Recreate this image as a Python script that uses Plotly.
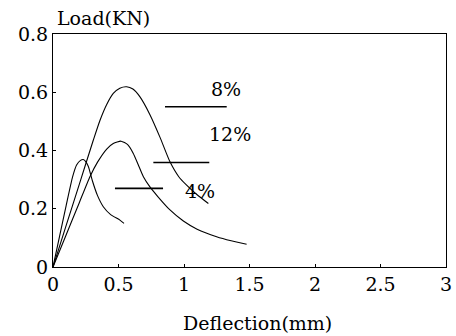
import plotly.graph_objects as go

# Load-deflection curves (mm, kN)
x_4 = [0.0, 0.05, 0.10, 0.15, 0.18, 0.21, 0.231, 0.25, 0.27, 0.30, 0.34, 0.384, 0.44, 0.511, 0.542]
y_4 = [0.0, 0.105, 0.21, 0.31, 0.35, 0.366, 0.369, 0.362, 0.345, 0.297, 0.245, 0.207, 0.18, 0.161, 0.150]

x_8 = [0.0, 0.10, 0.20, 0.308, 0.359, 0.41, 0.46, 0.51, 0.562, 0.61, 0.664, 0.74, 0.817, 0.893, 0.96, 1.02, 1.10, 1.186]
y_8 = [0.0, 0.142, 0.283, 0.436, 0.504, 0.558, 0.596, 0.614, 0.619, 0.611, 0.584, 0.523, 0.445, 0.361, 0.31, 0.281, 0.248, 0.218]

x_12 = [0.0, 0.10, 0.20, 0.282, 0.34, 0.41, 0.46, 0.52, 0.57, 0.613, 0.65, 0.69, 0.74, 0.80, 0.893, 0.995, 1.10, 1.249, 1.36, 1.478]
y_12 = [0.0, 0.11, 0.22, 0.31, 0.36, 0.405, 0.424, 0.432, 0.42, 0.39, 0.352, 0.31, 0.275, 0.242, 0.196, 0.158, 0.13, 0.104, 0.09, 0.078]

# Label key segments and texts
key_names = ["8%", "12%", "4%"]
key_line_x0 = [0.855, 0.766, 0.473]
key_line_x1 = [1.326, 1.193, 0.84]
key_line_y = [0.55, 0.359, 0.27]
key_text_x = [1.32, 1.351, 1.122]
key_text_y = [0.611, 0.456, 0.261]

x_ticks = [0, 0.5, 1, 1.5, 2, 2.5, 3]
x_tick_labels = ["0", "0.5", "1", "1.5", "2", "2.5", "3"]
y_ticks = [0, 0.2, 0.4, 0.6, 0.8]
y_tick_labels = ["0", "0.2", "0.4", "0.6", "0.8"]

FONT = "DejaVu Serif"
FS = 19
line_style = dict(color="black", width=1.1, shape="spline", smoothing=0.6)

fig = go.Figure()
for xs, ys in [(x_4, y_4), (x_8, y_8), (x_12, y_12)]:
    fig.add_trace(go.Scatter(x=xs, y=ys, mode="lines", line=line_style,
                             showlegend=False, hoverinfo="skip"))

for x0, x1, yv in zip(key_line_x0, key_line_x1, key_line_y):
    fig.add_trace(go.Scatter(x=[x0, x1], y=[yv, yv], mode="lines",
                             line=dict(color="black", width=1.6),
                             showlegend=False, hoverinfo="skip"))

for name, tx, ty in zip(key_names, key_text_x, key_text_y):
    fig.add_annotation(x=tx, y=ty, text=name, showarrow=False,
                       font=dict(family=FONT, size=FS, color="black"))

fig.add_annotation(xref="paper", yref="paper", x=0.005, y=1.0, yshift=16,
                   xanchor="left", yanchor="middle", text="Load(KN)",
                   showarrow=False, font=dict(family=FONT, size=FS, color="black"))
fig.add_annotation(xref="paper", yref="paper", x=0.52, y=0, yshift=-56,
                   xanchor="center", yanchor="middle", text="Deflection(mm)",
                   showarrow=False, font=dict(family=FONT, size=FS, color="black"))

axis_common = dict(showgrid=False, zeroline=False, showline=True, linecolor="black",
                   linewidth=1.2, mirror=True, ticks="inside", ticklen=3,
                   tickcolor="black", automargin=False,
                   tickfont=dict(family=FONT, size=FS, color="black"))

fig.update_xaxes(range=[0, 3], tickvals=x_ticks, ticktext=x_tick_labels, **axis_common)
fig.update_yaxes(range=[0, 0.8], tickvals=y_ticks, ticktext=y_tick_labels, **axis_common)

fig.update_layout(width=456, height=336, margin=dict(l=53, r=10, t=34, b=69),
                  plot_bgcolor="white", paper_bgcolor="white", showlegend=False)

fig.write_html("out.html", config={"displayModeBar": False},
               post_script="document.body.style.margin='0';document.body.style.padding='0';")
